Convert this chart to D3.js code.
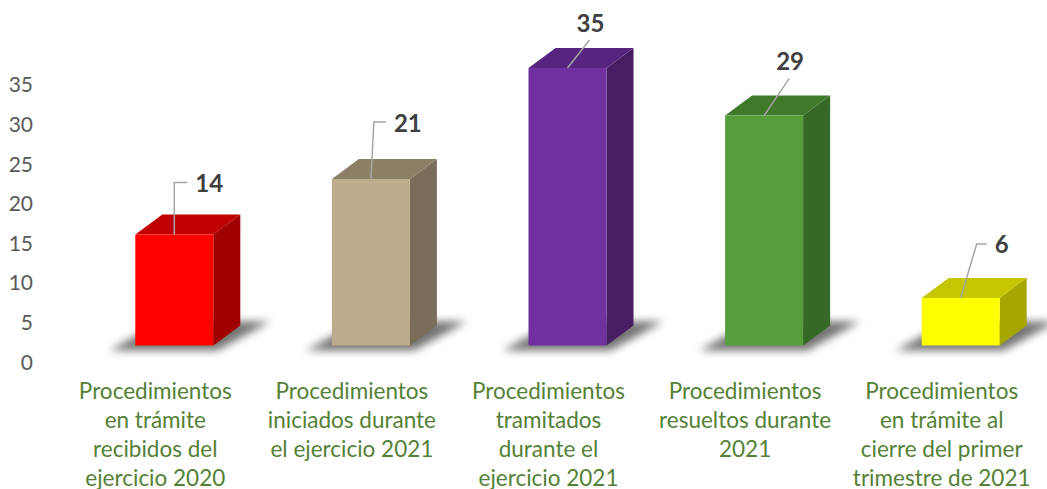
<!DOCTYPE html>
<html>
<head>
<meta charset="utf-8">
<script src="https://cdn.jsdelivr.net/npm/d3@7"></script>
<style>
  body { margin: 0; background: #fff; }
  svg { display: block; font-family: Lato, "Open Sans", sans-serif; }
</style>
</head>
<body>
<div id="chart"></div>
<script>
//chart data
var categories = [
  ["Procedimientos", "en trámite", "recibidos del", "ejercicio 2020"],
  ["Procedimientos", "iniciados durante", "el ejercicio 2021"],
  ["Procedimientos", "tramitados", "durante el", "ejercicio 2021"],
  ["Procedimientos", "resueltos durante", "2021"],
  ["Procedimientos", "en trámite al", "cierre del primer", "trimestre de 2021"]
];
var values = [14, 21, 35, 29, 6];
var yTicks = [0, 5, 10, 15, 20, 25, 30, 35];

//front / side / top colours of each bar
var fronts = ["#ff0000", "#bcac8c", "#7030a0", "#559e3a", "#ffff00"];
var sides = ["#a00000", "#7a6e58", "#471d64", "#366926", "#a6a600"];
var tops = ["#c00000", "#8c7f66", "#572580", "#3f7a2b", "#c6c600"];

//leader line layout for the data labels (relative to bar top)
var leaders = [
  {dx: 0, dy: -52, elbow: 13, mode: "side"},
  {dx: 3, dy: -57, elbow: 12, mode: "side"},
  {dx: 22, dy: -28, elbow: 0, mode: "above"},
  {dx: 25, dy: -37, elbow: 0, mode: "above"},
  {dx: 16, dy: -54, elbow: 10, mode: "side"}
];

var svgWidth = 1047;
var svgHeight = 489;

var svg = d3.select("#chart")
  .append("svg")
  .attr("width", svgWidth)
  .attr("height", svgHeight);

var defs = svg.append("defs");
defs.append("filter")
  .attr("id", "shadowBlur")
  .attr("x", "-50%").attr("y", "-50%")
  .attr("width", "200%").attr("height", "200%")
  .append("feGaussianBlur")
  .attr("stdDeviation", 4);

//scales
var xScale = d3.scaleBand()
  .domain(d3.range(values.length))
  .range([57, 1040]);

var yScale = d3.scaleLinear()
  .domain([0, 35])
  .range([362.5, 85]);

//3D geometry
var floorShift = -17;   // front face base sits above the axis zero
var frontW = 78;
var depthX = 27;
var depthY = -20;
var barShift = 19;

function frontLeft(i) {
  return xScale(i) + xScale.bandwidth() / 2 + barShift - frontW / 2;
}
function frontTop(v) {
  return yScale(v) + floorShift;
}
var base = yScale(0) + floorShift;

//y axis labels
var leftAxis = d3.axisLeft(yScale)
  .tickValues(yTicks)
  .tickSize(0)
  .tickPadding(0);

var axisG = svg.append("g")
  .attr("transform", "translate(33, 0)")
  .call(leftAxis);
axisG.select(".domain").remove();
axisG.selectAll("text")
  .attr("fill", "#595959")
  .attr("font-size", "21px")
  .attr("font-family", "Lato, sans-serif");

var bars = svg.selectAll(".bar")
  .data(values)
  .enter()
  .append("g")
  .attr("class", "bar");

//floor shadows
bars.append("polygon")
  .attr("points", function(d, i) {
    var x0 = frontLeft(i), x1 = x0 + frontW;
    return [
      [x0 - 26, base + 5],
      [x1 + 4, base + 5],
      [x1 + depthX + 30, base + depthY - 4],
      [x0 + depthX, base + depthY - 4]
    ].join(" ");
  })
  .attr("fill", "#000")
  .attr("opacity", 0.55)
  .attr("filter", "url(#shadowBlur)");

//side faces
bars.append("polygon")
  .attr("points", function(d, i) {
    var x1 = frontLeft(i) + frontW, t = frontTop(d);
    return [
      [x1, base], [x1 + depthX, base + depthY],
      [x1 + depthX, t + depthY], [x1, t]
    ].join(" ");
  })
  .attr("fill", (d, i) => sides[i]);

//top faces
bars.append("polygon")
  .attr("points", function(d, i) {
    var x0 = frontLeft(i), x1 = x0 + frontW, t = frontTop(d);
    return [
      [x0, t], [x1, t],
      [x1 + depthX, t + depthY], [x0 + depthX, t + depthY]
    ].join(" ");
  })
  .attr("fill", (d, i) => tops[i]);

//front faces
bars.append("rect")
  .attr("x", (d, i) => frontLeft(i))
  .attr("y", d => frontTop(d))
  .attr("width", frontW)
  .attr("height", d => base - frontTop(d))
  .attr("fill", (d, i) => fronts[i]);

//leader lines
bars.append("polyline")
  .attr("points", function(d, i) {
    var L = leaders[i];
    var x = frontLeft(i) + frontW / 2, t = frontTop(d);
    var pts = [[x, t], [x + L.dx, t + L.dy]];
    if (L.elbow) pts.push([x + L.dx + L.elbow, t + L.dy]);
    return pts.join(" ");
  })
  .attr("fill", "none")
  .attr("stroke", "#a6a6a6")
  .attr("stroke-width", 1.5);

//value labels
bars.append("text")
  .text(d => d)
  .attr("x", function(d, i) {
    var L = leaders[i];
    var x = frontLeft(i) + frontW / 2 + L.dx;
    return L.mode == "side" ? x + L.elbow + 8 : x + 1;
  })
  .attr("y", function(d, i) {
    var L = leaders[i];
    var y = frontTop(d) + L.dy;
    return L.mode == "side" ? y : y - 18;
  })
  .attr("text-anchor", (d, i) => leaders[i].mode == "side" ? "start" : "middle")
  .attr("dominant-baseline", "central")
  .attr("font-size", "24px")
  .attr("font-weight", "bold")
  .attr("fill", "#404040");

//category labels
var catText = svg.selectAll(".cat")
  .data(categories)
  .enter()
  .append("text")
  .attr("class", "cat")
  .attr("x", (d, i) => xScale(i) + xScale.bandwidth() / 2)
  .attr("y", 399)
  .attr("text-anchor", "middle")
  .attr("font-size", "22.5px")
  .attr("fill", "#538135");

catText.selectAll("tspan")
  .data(d => d)
  .enter()
  .append("tspan")
  .attr("x", function() { return d3.select(this.parentNode).attr("x"); })
  .attr("dy", (d, j) => j == 0 ? 0 : 29)
  .text(d => d);
</script>
</body>
</html>
